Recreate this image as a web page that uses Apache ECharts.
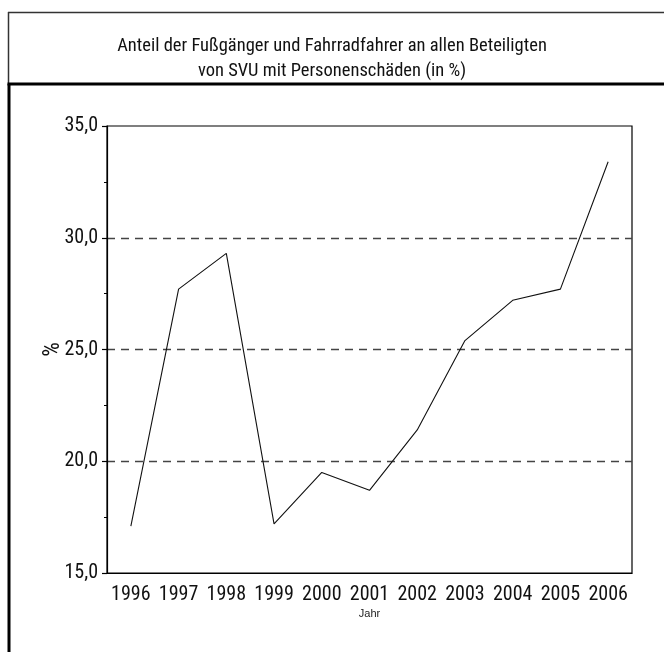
<!DOCTYPE html>
<html>
<head>
<meta charset="utf-8">
<script src="https://cdn.jsdelivr.net/npm/echarts@6/dist/echarts.min.js"></script>
<style>
  html, body { margin: 0; padding: 0; background: #fff; }
  #chart { width: 664px; height: 652px; }
</style>
</head>
<body>
<div id="chart"></div>
<script>
const TITLE_LINES = [
  "Anteil der Fußgänger und Fahrradfahrer an allen Beteiligten",
  "von SVU mit Personenschäden (in %)"
];
const YEARS = ["1996", "1997", "1998", "1999", "2000", "2001", "2002", "2003", "2004", "2005", "2006"];
const SHARE = [17.1, 27.7, 29.3, 17.2, 19.5, 18.7, 21.4, 25.4, 27.2, 27.7, 33.4];
const Y_MIN = 15;
const Y_MAX = 35;
const Y_STEP = 5;
const X_NAME = "Jahr";
const Y_NAME = "%";

// condensed face, close to the Univers Condensed of the original
const FONT = "'Roboto Condensed', 'Liberation Sans Narrow', sans-serif";

const fmtComma = v => v.toFixed(1).replace(".", ",");

const chart = echarts.init(document.getElementById("chart"), null, { renderer: "canvas" });

const baseY = {
  type: "value",
  min: Y_MIN,
  max: Y_MAX,
  interval: Y_STEP,
  position: "left"
};
const baseX = {
  type: "category",
  data: YEARS,
  boundaryGap: true,
  position: "bottom"
};

chart.setOption({
  animation: false,
  backgroundColor: "#fff",
  title: {
    text: TITLE_LINES.join("\n"),
    left: "center",
    top: 28.5,
    textStyle: {
      fontFamily: FONT,
      fontSize: 18.5,
      fontWeight: "normal",
      lineHeight: 25,
      color: "#111"
    }
  },
  grid: {
    left: 107,
    top: 126,
    right: 32,
    bottom: 79,
    show: true,
    borderColor: "#000",
    borderWidth: 1.2
  },
  xAxis: [
    {
      ...baseX,
      name: X_NAME,
      nameLocation: "middle",
      nameGap: 35,
      nameMoveOverlap: false,
      nameTextStyle: { fontFamily: "'Liberation Sans', Arial, sans-serif", fontSize: 11, color: "#222" },
      axisLine: { lineStyle: { color: "#000", width: 1.2 } },
      axisTick: { alignWithLabel: true, inside: false, length: 7, lineStyle: { color: "#000", width: 1.2 } },
      axisLabel: { interval: 0, fontFamily: FONT, fontSize: 20, color: "#111", margin: 12 },
      splitLine: { show: false }
    },
    {
      ...baseX,
      axisLine: { show: false },
      axisTick: { alignWithLabel: true, inside: true, length: 6, lineStyle: { color: "#000", width: 1.2 } },
      axisLabel: { show: false },
      splitLine: { show: false }
    }
  ],
  yAxis: [
    {
      ...baseY,
      name: Y_NAME,
      nameLocation: "middle",
      nameRotate: 90,
      nameGap: 42,
      nameMoveOverlap: false,
      nameTextStyle: { fontFamily: FONT, fontSize: 23, color: "#111" },
      axisLine: { show: true, lineStyle: { color: "#000", width: 1.2 } },
      axisTick: { show: true, inside: false, length: 5, lineStyle: { color: "#000", width: 1.2 } },
      minorTick: { show: true, splitNumber: 2, length: 2, lineStyle: { color: "#000", width: 1 } },
      axisLabel: { fontFamily: FONT, fontSize: 20, color: "#111", margin: 9, formatter: fmtComma },
      splitLine: {
        show: true,
        showMinLine: false,
        showMaxLine: false,
        lineStyle: { color: "#444", width: 1.3, type: [8, 6] }
      }
    },
    {
      ...baseY,
      axisLine: { show: false },
      axisTick: { show: false },
      minorTick: { show: true, splitNumber: 2, length: 3, lineStyle: { color: "#000", width: 1 } },
      axisLabel: { show: false },
      splitLine: { show: false }
    }
  ],
  series: [
    {
      type: "line",
      data: SHARE,
      xAxisIndex: 0,
      yAxisIndex: 0,
      symbol: "none",
      lineStyle: { color: "#111", width: 1.1 },
      silent: true
    }
  ],
  graphic: [
    { type: "line", shape: { x1: 8, y1: 12.5, x2: 664, y2: 12.5 }, style: { stroke: "#333", lineWidth: 1.5 } },
    { type: "line", shape: { x1: 8.5, y1: 12, x2: 8.5, y2: 84 }, style: { stroke: "#333", lineWidth: 1.5 } },
    { type: "line", shape: { x1: 9, y1: 84, x2: 9, y2: 652 }, style: { stroke: "#000", lineWidth: 3 } },
    { type: "line", shape: { x1: 7.5, y1: 84, x2: 664, y2: 84 }, style: { stroke: "#000", lineWidth: 3 } }
  ]
});
</script>
</body>
</html>
